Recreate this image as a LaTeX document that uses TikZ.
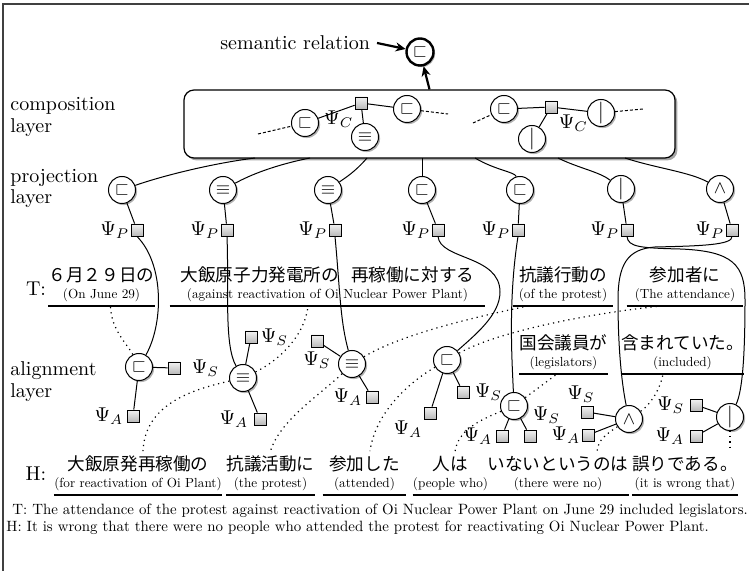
\documentclass[tikz,border=0pt]{standalone}
\usepackage{amssymb}
\usepackage{fontspec}
\newfontfamily\jpfont{Noto Sans CJK JP}
\newfontfamily\lmten{lmroman10-regular.otf}
\usetikzlibrary{arrows.meta,shadows}
\newcommand{\jp}{\fontsize{8.8}{10}\jpfont}
\newcommand{\gloss}{\fontsize{6.6}{8.5}\lmten}
\newcommand{\vbar}{{\fontsize{11}{11}\selectfont$|$}}
\tikzset{soft shadow/.style={drop shadow={shadow xshift=0.8pt,shadow yshift=-0.8pt,opacity=0.3,fill=black}},
	rel/.style={circle,draw,fill=white,inner sep=0pt,minimum size=13.5pt,line width=0.5pt,
		font=\fontsize{9}{9}\selectfont,soft shadow},
	factor/.style={rectangle,draw,inner sep=0pt,minimum size=6pt,line width=0.4pt,
		top color=gray!10,bottom color=gray!55},
	psi/.style={font=\fontsize{10}{10}\selectfont,inner sep=0.5pt},
	chunk/.style={align=center,anchor=south,inner xsep=0pt,inner ysep=2pt,font=\gloss},
	uline/.style={line width=0.8pt},
	layer/.style={align=left,anchor=west,inner sep=0pt},
	link/.style={line width=0.5pt},
	align link/.style={dotted,line width=0.6pt},
	open end/.style={dash pattern=on 1.5pt off 1pt,line width=0.5pt},
	sentence/.style={anchor=west,inner sep=0pt,font=\fontsize{7.45}{9}\lmten}}

\begin{document}
\begin{tikzpicture}[x=0.5pt,y=-0.5pt]
	\useasboundingbox (0,0) rectangle (749,571);
	\draw[line width=0.8pt,black!75] (3,571) -- (3,4) -- (749,4);

	% semantic relation
	\node[rel,line width=1.2pt] (r) at (420,52) {$\sqsubset$};
	\node[anchor=east] (sem) at (377,43) {semantic relation};
	\draw[-{Stealth[length=5pt,width=4.5pt]},line width=1.1pt] (sem.east) -- (r);

	% composition layer
	\node[draw,rounded corners=5pt,line width=0.6pt,fill=white,
		drop shadow={shadow xshift=1.2pt,shadow yshift=-1.2pt,opacity=0.35,fill=black},
		minimum width=245.5pt,minimum height=34pt,inner sep=0pt] (comp) at (429.5,124) {};
	\draw[-{Stealth[length=5pt,width=4.5pt]},line width=1.1pt] (comp.north) -- (r);
	\node[rel] (c1) at (305,123) {$\sqsubset$};
	\node[factor,label={[psi]below left:$\Psi_C$}] (cc1) at (361,103) {};
	\node[rel] (c2) at (365,137) {$\equiv$};
	\node[rel] (c3) at (407,109) {$\sqsubset$};
	\node[rel] (c4) at (504,109) {$\sqsubset$};
	\node[factor,label={[psi]below right:$\Psi_C$}] (cc2) at (551,107) {};
	\node[rel] (c5) at (601,113) {\vbar};
	\node[rel] (c6) at (532,139) {\vbar};
	\draw[link] (c1) -- (cc1);
	\draw[link] (cc1) -- (c2);
	\draw[link] (cc1) -- (c3);
	\draw[link] (c4) -- (cc2);
	\draw[link] (cc2) -- (c5);
	\draw[link] (cc2) -- (c6);
	\coordinate (d1) at (258,134);
	\coordinate (d2) at (448,114);
	\coordinate (d3) at (473,123);
	\coordinate (d4) at (643,109);
	\draw[open end] (d1) -- (c1);
	\draw[open end] (c3) -- (d2);
	\draw[open end] (d3) -- (c4);
	\draw[open end] (c5) -- (d4);
	\node[layer] (lcomp) at (10,117) {composition\\[-1pt]layer};

	% projection layer
	\node[rel] (p1) at (122,190) {$\sqsubset$};
	\node[rel] (p2) at (223,190) {$\equiv$};
	\node[rel] (p3) at (328,190) {$\equiv$};
	\node[rel] (p4) at (422,190) {$\sqsubset$};
	\node[rel] (p5) at (520,190) {$\sqsubset$};
	\node[rel] (p6) at (621,189) {\vbar};
	\node[rel] (p7) at (720,189) {$\wedge$};
	\node[factor,label={[psi]left:$\Psi_P$}] (pp1) at (137,230) {};
	\node[factor,label={[psi]left:$\Psi_P$}] (pp2) at (227,230) {};
	\node[factor,label={[psi]left:$\Psi_P$}] (pp3) at (335,230) {};
	\node[factor,label={[psi]left:$\Psi_P$}] (pp4) at (438,230) {};
	\node[factor,label={[psi]left:$\Psi_P$}] (pp5) at (518,230) {};
	\node[factor,label={[psi]left:$\Psi_P$}] (pp6) at (627,230) {};
	\node[factor,label={[psi]left:$\Psi_P$}] (pp7) at (732,230) {};
	\foreach \i in {1,...,7} \draw[link] (p\i) -- (pp\i);
	\coordinate (b1) at (255,158);
	\coordinate (b2) at (310,158);
	\coordinate (b3) at (367,158);
	\coordinate (b4) at (422,158);
	\coordinate (b5) at (475,158);
	\coordinate (b6) at (558,158);
	\coordinate (b7) at (625,158);
	\draw[link] (b1) .. controls (215,163) and (165,175) .. (p1);
	\draw[link] (b2) .. controls (275,165) and (250,175) .. (p2);
	\draw[link] (b3) .. controls (355,172) and (345,178) .. (p3);
	\draw[link] (b4) -- (p4);
	\draw[link] (b5) .. controls (495,170) and (515,172) .. (p5);
	\draw[link] (b6) .. controls (578,168) and (600,172) .. (p6);
	\draw[link] (b7) .. controls (655,168) and (690,172) .. (p7);
	\node[layer] (lproj) at (10,188) {projection\\[-1.5pt]layer};

	% T and H
	\node (tlab) at (36,289) {T:};
	\node (hlab) at (36,474) {H:};
	\node[chunk,minimum width=50.5pt] (t1) at (101.5,306) {{\jp ６月２９日の}\\(On June 29)};
	\node[chunk,minimum width=157.5pt] (t2) at (327.5,306) {{\jp 大飯原子力発電所の\hspace{6pt}再稼働に対する}\\(against reactivation of Oi Nuclear Power Plant)};
	\node[chunk,minimum width=50pt] (t3) at (563,306) {{\jp 抗議行動の}\\(of the protest)};
	\node[chunk,minimum width=58pt] (t4) at (685,306) {{\jp 参加者に}\\(The attendance)};
	\node[chunk,minimum width=43.5pt] (t5) at (563.5,374) {{\jp 国会議員が}\\(legislators)};
	\node[chunk,minimum width=55.5pt] (t6) at (682.5,374) {{\jp 含まれていた。}\\(included)};
	\node[chunk,minimum width=80pt] (h1) at (138,495) {{\jp 大飯原発再稼働の}\\(for reactivation of Oi Plant)};
	\node[chunk,minimum width=42.5pt] (h2) at (270.5,495) {{\jp 抗議活動に}\\(the protest)};
	\node[chunk,minimum width=41.5pt] (h3) at (364.5,495) {{\jp 参加した}\\(attended)};
	\node[chunk,minimum width=37.5pt] (h4) at (450.5,495) {{\jp 人は}\\(people who)};
	\node[chunk,minimum width=66pt] (h5) at (558,495) {{\jp いないというのは}\\(there were no)};
	\node[chunk,minimum width=51pt] (h6) at (685,495) {{\jp 誤りである。}\\(it is wrong that)};
	\foreach \c in {t1,t2,t3,t4,t5,t6,h1,h2,h3,h4,h5,h6}
		\draw[uline] (\c.south west) -- (\c.south east);

	% alignment layer
	\node[rel] (a1) at (139,367) {$\sqsubset$};
	\node[rel] (a2) at (243,378) {$\equiv$};
	\node[rel] (a3) at (352,364) {$\equiv$};
	\node[rel] (a4) at (447,360) {$\sqsubset$};
	\node[rel] (a5) at (514,406) {$\sqsubset$};
	\node[rel] (a6) at (629,419) {$\wedge$};
	\node[rel] (a7) at (730,417) {\vbar};
	\node[factor,label={[psi,label distance=5pt]right:$\Psi_S$}] (as1) at (174,368) {};
	\node[factor,label={[psi,label distance=1pt]left:$\Psi_A$}] (aa1) at (133,416) {};
	\node[factor,label={[psi,label distance=1pt]right:$\Psi_S$}] (as2) at (251,337) {};
	\node[factor,label={[psi,label distance=2pt]left:$\Psi_A$}] (aa2) at (260,419) {};
	\node[factor,label={[psi,label distance=1.5pt]below:$\Psi_S$}] (as3) at (317,341) {};
	\node[factor,label={[psi,label distance=1pt]left:$\Psi_A$}] (aa3) at (372,397) {};
	\node[factor,label={[psi,label distance=2pt]right:$\Psi_S$}] (as4) at (463,392) {};
	\node[factor,label={[psi]below left:$\Psi_A$}] (aa4) at (430,413) {};
	\node[factor,label={[psi,label distance=1pt]left:$\Psi_A$}] (aa5) at (502,436) {};
	\node[factor,label={[psi,xshift=-2.5pt,yshift=2.5pt]above right:$\Psi_S$}] (as5) at (530,436) {};
	\node[factor,label={[psi,xshift=-3pt,label distance=1pt]above:$\Psi_S$}] (as6) at (587,412) {};
	\node[factor,label={[psi]left:$\Psi_A$}] (aa6) at (588,435) {};
	\node[factor,label={[psi,label distance=2pt]left:$\Psi_S$}] (as7) at (696,405) {};
	\node[factor,label={[psi,label distance=2pt]left:$\Psi_A$}] (aa7) at (696,436) {};
	\foreach \i in {1,...,7} {
		\draw[link] (a\i) -- (as\i);
		\draw[link] (a\i) -- (aa\i);
	}
	\node[layer] (lalign) at (10,382) {alignment\\[-1pt]layer};

	% projection factors to alignment nodes
	\draw[link] (pp1.south) .. controls (165,265) and (163,325) .. (a1);
	\draw[link] (pp2.south) .. controls (229,290) and (224,345) .. (a2);
	\draw[link] (pp3.south) .. controls (340,290) and (340,320) .. (a3);
	\draw[link] (pp4.south) .. controls (440,260) and (500,255) .. (500,292)
		.. controls (500,315) and (475,335) .. (a4);
	\draw[link] (pp5.south) .. controls (508,300) and (512,360) .. (a5);
	\draw[link] (pp6.south) .. controls (628,247) and (640,248) .. (680,249)
		.. controls (733,251) and (745,265) .. (745,300)
		.. controls (745,360) and (742,392) .. (a7);
	\draw[link] (pp7.south) .. controls (733,245) and (700,246) .. (655,247)
		.. controls (627,249) and (618,265) .. (618,300)
		.. controls (618,350) and (622,385) .. (a6);

	% alignments to chunks
	\draw[align link] (a1) .. controls (128,345) and (111,330) .. ([xshift=4.5pt]t1.south);
	\draw[align link] (a2) .. controls (280,360) and (305,335) .. ([xshift=-9.75pt]t2.south);
	\draw[align link] (a2) .. controls (190,390) and (145,405) .. ([xshift=2.5pt]h1.north);
	\draw[align link] (a3) .. controls (400,335) and (470,318) .. ([xshift=-17.5pt]t3.south);
	\draw[align link] (a3) .. controls (320,395) and (280,420) .. (h2.north);
	\draw[align link] (a4) .. controls (500,330) and (600,312) .. ([xshift=-11.5pt]t4.south);
	\draw[align link] (a4) .. controls (405,385) and (375,415) .. ([xshift=2.75pt]h3.north);
	\draw[align link] (a5) -- ([xshift=-3.25pt]t5.south);
	\draw[align link] (a5) .. controls (480,420) and (458,430) .. ([xshift=2.25pt]h4.north);
	\draw[align link] (a6) .. controls (650,405) and (660,390) .. ([xshift=-9.75pt]t6.south);
	\draw[align link] (a6) .. controls (605,435) and (598,440) .. ([xshift=19.5pt]h5.north);
	\draw[align link] (a7) -- (a7 |- h6.north);

	% sentences
	\node[sentence] (tsent) at (12,511)
		{T: The attendance of the protest against reactivation of Oi Nuclear Power Plant on June 29 included legislators.};
	\node[sentence] (hsent) at (6,528)
		{H: It is wrong that there were no people who attended the protest for reactivating Oi Nuclear Power Plant.};
\end{tikzpicture}
\end{document}
